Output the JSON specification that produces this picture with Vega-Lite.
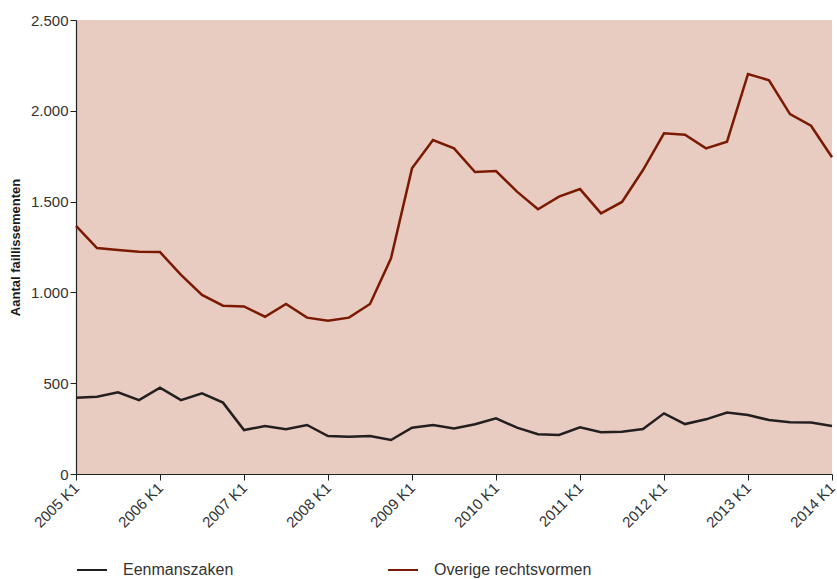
{
  "$schema": "https://vega.github.io/schema/vega-lite/v6.json",
  "width": 756,
  "height": 454,
  "autosize": "none",
  "padding": {"left": 76, "top": 20, "right": 5, "bottom": 105},
  "background": "white",
  "config": {
    "view": {"fill": "#E8CCC1", "stroke": null},
    "font": "Liberation Sans",
    "axis": {"labelFont": "Liberation Sans", "titleFont": "Liberation Sans", "labelColor": "#333", "domainColor": "#222", "tickColor": "#222", "grid": false}
  },
  "datasets": {
    "d": [
      {"q":"2005 K1","Eenmanszaken":420,"Overige rechtsvormen":1366},
      {"q":"2005 K2","Eenmanszaken":426,"Overige rechtsvormen":1244},
      {"q":"2005 K3","Eenmanszaken":450,"Overige rechtsvormen":1233},
      {"q":"2005 K4","Eenmanszaken":407,"Overige rechtsvormen":1224},
      {"q":"2006 K1","Eenmanszaken":475,"Overige rechtsvormen":1222},
      {"q":"2006 K2","Eenmanszaken":407,"Overige rechtsvormen":1096},
      {"q":"2006 K3","Eenmanszaken":444,"Overige rechtsvormen":986},
      {"q":"2006 K4","Eenmanszaken":393,"Overige rechtsvormen":927},
      {"q":"2007 K1","Eenmanszaken":242,"Overige rechtsvormen":923},
      {"q":"2007 K2","Eenmanszaken":264,"Overige rechtsvormen":866},
      {"q":"2007 K3","Eenmanszaken":246,"Overige rechtsvormen":936},
      {"q":"2007 K4","Eenmanszaken":270,"Overige rechtsvormen":861},
      {"q":"2008 K1","Eenmanszaken":209,"Overige rechtsvormen":844},
      {"q":"2008 K2","Eenmanszaken":205,"Overige rechtsvormen":861},
      {"q":"2008 K3","Eenmanszaken":209,"Overige rechtsvormen":936},
      {"q":"2008 K4","Eenmanszaken":187,"Overige rechtsvormen":1188},
      {"q":"2009 K1","Eenmanszaken":255,"Overige rechtsvormen":1683},
      {"q":"2009 K2","Eenmanszaken":270,"Overige rechtsvormen":1839},
      {"q":"2009 K3","Eenmanszaken":251,"Overige rechtsvormen":1793},
      {"q":"2009 K4","Eenmanszaken":274,"Overige rechtsvormen":1663},
      {"q":"2010 K1","Eenmanszaken":307,"Overige rechtsvormen":1668},
      {"q":"2010 K2","Eenmanszaken":255,"Overige rechtsvormen":1555},
      {"q":"2010 K3","Eenmanszaken":219,"Overige rechtsvormen":1458},
      {"q":"2010 K4","Eenmanszaken":215,"Overige rechtsvormen":1527},
      {"q":"2011 K1","Eenmanszaken":257,"Overige rechtsvormen":1569},
      {"q":"2011 K2","Eenmanszaken":230,"Overige rechtsvormen":1435},
      {"q":"2011 K3","Eenmanszaken":233,"Overige rechtsvormen":1498},
      {"q":"2011 K4","Eenmanszaken":248,"Overige rechtsvormen":1674},
      {"q":"2012 K1","Eenmanszaken":334,"Overige rechtsvormen":1876},
      {"q":"2012 K2","Eenmanszaken":275,"Overige rechtsvormen":1868},
      {"q":"2012 K3","Eenmanszaken":301,"Overige rechtsvormen":1793},
      {"q":"2012 K4","Eenmanszaken":338,"Overige rechtsvormen":1830},
      {"q":"2013 K1","Eenmanszaken":325,"Overige rechtsvormen":2203},
      {"q":"2013 K2","Eenmanszaken":297,"Overige rechtsvormen":2168},
      {"q":"2013 K3","Eenmanszaken":285,"Overige rechtsvormen":1982},
      {"q":"2013 K4","Eenmanszaken":283,"Overige rechtsvormen":1918},
      {"q":"2014 K1","Eenmanszaken":264,"Overige rechtsvormen":1744}
    ]
  },
  "data": {"name": "d"},
  "transform": [{"fold": ["Eenmanszaken", "Overige rechtsvormen"], "as": ["reeks", "aantal"]}],
  "mark": {"type": "line", "strokeWidth": 2.5, "strokeJoin": "miter"},
  "encoding": {
    "x": {
      "field": "q", "type": "ordinal",
      "scale": {"type": "point", "padding": 0},
      "sort": null,
      "axis": {
        "title": null,
        "values": ["2005 K1","2006 K1","2007 K1","2008 K1","2009 K1","2010 K1","2011 K1","2012 K1","2013 K1","2014 K1"],
        "labelAngle": -45, "labelAlign": "right", "labelBaseline": "middle",
        "labelFontSize": 15, "tickSize": 6, "labelPadding": 5, "domainWidth": 1.2
      }
    },
    "y": {
      "field": "aantal", "type": "quantitative",
      "scale": {"domain": [0, 2500]},
      "axis": {
        "title": "Aantal faillissementen",
        "titleFontSize": 13, "titleFontWeight": "bold", "titleColor": "#1a1a1a",
        "values": [0, 500, 1000, 1500, 2000, 2500],
        "labelExpr": "replace(format(datum.value, ','), ',', '.')",
        "labelFontSize": 15, "tickSize": 6, "labelPadding": 2, "domainWidth": 1.2, "titlePadding": 8
      }
    },
    "color": {
      "field": "reeks", "type": "nominal",
      "scale": {"domain": ["Eenmanszaken", "Overige rechtsvormen"], "range": ["#231F20", "#7B1A02"]},
      "legend": {
        "title": null, "orient": "none", "legendX": 0, "legendY": 534,
        "direction": "horizontal", "columns": 2, "gridAlign": "all",
        "symbolType": "stroke", "symbolSize": 900, "symbolStrokeWidth": 2,
        "labelFontSize": 16, "labelColor": "#333", "labelOffset": 15, "columnPadding": 103, "labelLimit": 300
      }
    }
  }
}
